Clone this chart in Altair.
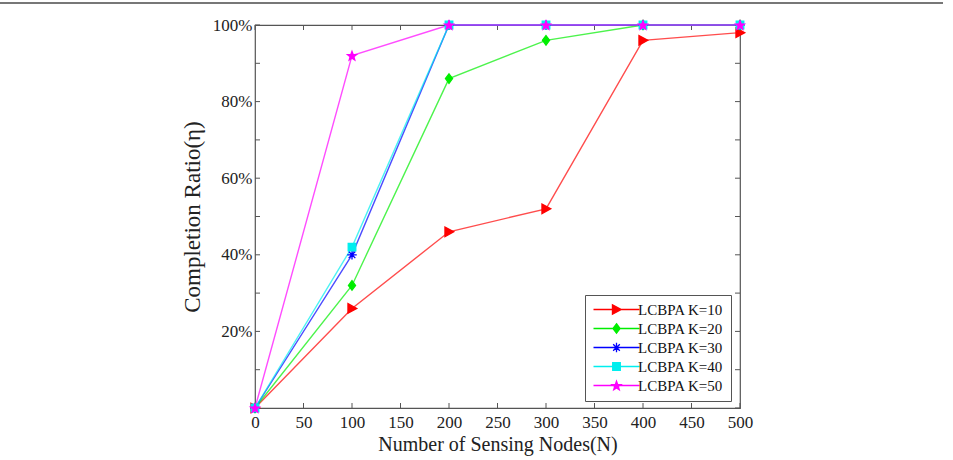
import math
import altair as alt
import pandas as pd

# ---- data ----
nodes = [0, 100, 200, 300, 400, 500]
series_names = ["LCBPA K=10", "LCBPA K=20", "LCBPA K=30", "LCBPA K=40", "LCBPA K=50"]
k10 = [0, 26, 46, 52, 96, 98]
k20 = [0, 32, 86, 96, 100, 100]
k30 = [0, 40, 100, 100, 100, 100]
k40 = [0, 42, 100, 100, 100, 100]
k50 = [0, 92, 100, 100, 100, 100]
colors = ["#ff0000", "#00ee00", "#0000ff", "#00eeee", "#ff00ff"]
x_ticks = [0, 50, 100, 150, 200, 250, 300, 350, 400, 450, 500]
y_ticks = [0, 10, 20, 30, 40, 50, 60, 70, 80, 90, 100]
y_labels = [20, 40, 60, 80, 100]

rows = []
for name, vals in zip(series_names, [k10, k20, k30, k40, k50]):
    for n, v in zip(nodes, vals):
        rows.append({"N": n, "ratio": v, "series": name})
df = pd.DataFrame(rows)

# ---- marker shapes ----
def fmt(v):
    return f"{v:.3f}".rstrip("0").rstrip(".")

def scale_path(cmds, s):
    out = []
    for c, pts in cmds:
        out.append(c + " ".join(f"{fmt(x*s)},{fmt(y*s)}" for x, y in pts))
    return "".join(out)

tri = [("M", [(-0.85, -1)]), ("L", [(1, 0)]), ("L", [(-0.85, 1)]), ("Z", [])]
dia = [("M", [(0, -1)]), ("L", [(0.75, 0)]), ("L", [(0, 1)]), ("L", [(-0.75, 0)]), ("Z", [])]
ast = [("M", [(-1, 0)]), ("L", [(1, 0)]), ("M", [(0, -1)]), ("L", [(0, 1)]),
       ("M", [(-0.7, -0.7)]), ("L", [(0.7, 0.7)]), ("M", [(-0.7, 0.7)]), ("L", [(0.7, -0.7)])]
sq = [("M", [(-0.8, -0.8)]), ("L", [(0.8, -0.8)]), ("L", [(0.8, 0.8)]), ("L", [(-0.8, 0.8)]), ("Z", [])]
star_pts = []
for i in range(10):
    r = 1.0 if i % 2 == 0 else 0.42
    a = math.radians(-90 + 36 * i)
    star_pts.append((r * math.cos(a), r * math.sin(a) + 0.1))
star = [("M", [star_pts[0]])] + [("L", [p]) for p in star_pts[1:]] + [("Z", [])]
marker_defs = [tri, dia, ast, sq, star]

plot_shapes = [scale_path(m, 1.0) for m in marker_defs]
legend_shapes = ["M-4.6,0L4.6,0" + scale_path(m, 0.95) for m in marker_defs]

FONT = "Liberation Serif"
W, H = 485, 383

x_scale = alt.Scale(domain=[0, 500], nice=False)
y_scale = alt.Scale(domain=[0, 100], nice=False)
color_scale = alt.Scale(domain=series_names, range=colors)
legend_def = alt.Legend(
    title=None, orient="none", legendX=330, legendY=270,
    labelFont=FONT, labelFontSize=15, labelColor="#111",
    padding=7, strokeColor="#555", fillColor="white",
    symbolSize=100, symbolOffset=17, labelOffset=14, rowPadding=3,
    symbolStrokeWidth=1.3, symbolOpacity=1)

base = alt.Chart(df)

lines = base.mark_line(strokeWidth=1.4, opacity=0.7).encode(
    x=alt.X("N:Q", scale=x_scale,
            axis=alt.Axis(values=x_ticks, title="Number of Sensing Nodes(N)", grid=False,
                          domain=False, ticks=False, labelPadding=6, titlePadding=4,
                          labelFlush=False,
                          labelFont=FONT, labelFontSize=17, titleFont=FONT, titleFontSize=20,
                          titleFontWeight="normal", labelColor="#222", titleColor="#222")),
    y=alt.Y("ratio:Q", scale=y_scale,
            axis=alt.Axis(values=y_labels, labelExpr="datum.value + '%'", title="Completion Ratio(η)",
                          grid=False, domain=False, ticks=False, labelPadding=3, titlePadding=8,
                          labelFlush=False,
                          labelFont=FONT, labelFontSize=17, titleFont=FONT, titleFontSize=23,
                          titleFontWeight="normal", labelColor="#222", titleColor="#222")),
    color=alt.Color("series:N", scale=color_scale, legend=legend_def),
    order="N:Q",
)

point_layers = []
for name, col, shp in zip(series_names, colors, plot_shapes):
    point_layers.append(
        base.transform_filter(alt.datum.series == name).mark_point(
            shape=shp, filled=True, size=90, color=col, stroke=col, strokeWidth=1.3, opacity=1
        ).encode(x=alt.X("N:Q", scale=x_scale), y=alt.Y("ratio:Q", scale=y_scale))
    )

legend_layer = base.transform_filter("datum.N < 0").mark_point(filled=True, strokeWidth=1.3).encode(
    x=alt.X("N:Q", scale=x_scale),
    y=alt.Y("ratio:Q", scale=y_scale),
    color=alt.Color("series:N", scale=color_scale, legend=legend_def),
    stroke=alt.Stroke("series:N", scale=color_scale, legend=legend_def),
    shape=alt.Shape("series:N", scale=alt.Scale(domain=series_names, range=legend_shapes), legend=legend_def),
)

tx = pd.DataFrame({"t": x_ticks})
ty = pd.DataFrame({"t": y_ticks})
tick_style = dict(color="#555", strokeWidth=1)
xt_bottom = alt.Chart(tx).mark_rule(**tick_style).encode(
    x=alt.X("t:Q", scale=x_scale), y=alt.value(H), y2=alt.value(H - 5))
xt_top = alt.Chart(tx).mark_rule(**tick_style).encode(
    x=alt.X("t:Q", scale=x_scale), y=alt.value(0), y2=alt.value(5))
yt_left = alt.Chart(ty).mark_rule(**tick_style).encode(
    y=alt.Y("t:Q", scale=y_scale), x=alt.value(0), x2=alt.value(5))
yt_right = alt.Chart(ty).mark_rule(**tick_style).encode(
    y=alt.Y("t:Q", scale=y_scale), x=alt.value(W), x2=alt.value(W - 5))

# decorative frame line along the top edge of the figure
frame_top = alt.Chart(tx).mark_rule(color="#777", strokeWidth=1.5).encode(
    x=alt.value(-255), x2=alt.value(688), y=alt.value(-22))

chart = alt.layer(frame_top, xt_bottom, xt_top, yt_left, yt_right, lines, *point_layers, legend_layer).properties(
    width=W, height=H,
    autosize=alt.AutoSizeParams(type="none"),
    padding={"left": 255, "top": 25, "right": 213, "bottom": 52},
    background="white",
).configure_view(stroke="#555", strokeWidth=1.2)

chart.save("out.html", embed_options={"renderer": "svg", "actions": False})
